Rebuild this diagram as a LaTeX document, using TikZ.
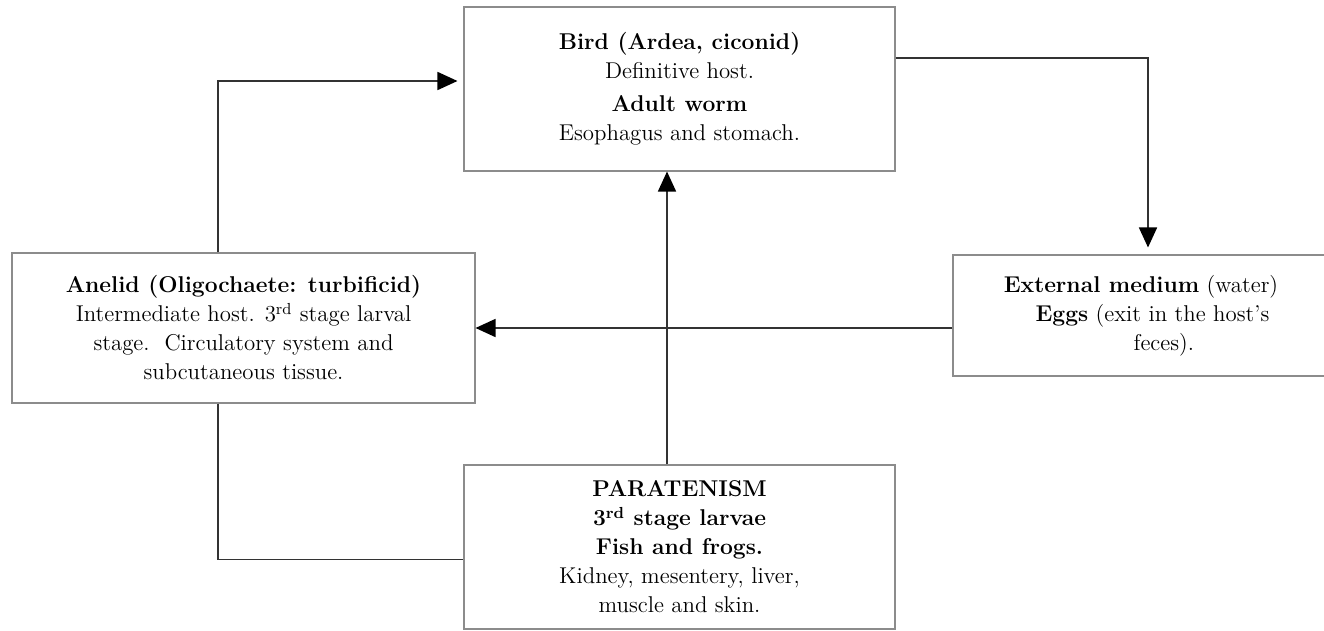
\documentclass[tikz,border=0pt]{standalone}
\usepackage{xcolor}
\usepackage{tikz}
\usetikzlibrary{arrows.meta,positioning}

\begin{document}
\begin{tikzpicture}[
  box/.style={rectangle, draw=black!45, line width=0.6pt, fill=white,
              align=center, inner sep=0pt,
              font=\fontsize{13}{16.5}\selectfont},
  arr/.style={-{Triangle[length=0.4cm, width=0.36cm, color=black, fill=black]},
              line width=0.9pt, black!80},
  link/.style={line width=0.9pt, black!80}
]

\useasboundingbox (0,0) rectangle (26.48,-12.62);

%% Host boxes
\node[box, minimum width=8.62cm, minimum height=3.28cm] (bird) at (13.59,-1.78)
  {\textbf{Bird (Ardea, ciconid)}\\Definitive host.\\[2pt]\textbf{Adult worm}\\Esophagus and stomach.};
\node[box, minimum width=9.26cm, minimum height=3.0cm] (anelid) at (4.87,-6.56)
  {\textbf{Anelid (Oligochaete: turbificid)}\\Intermediate host. 3\textsuperscript{rd} stage larval\\stage.\ \ Circulatory system and\\subcutaneous tissue.};
\node[box, minimum width=7.52cm, minimum height=2.42cm] (ext) at (22.82,-6.31)
  {\textbf{External medium} (water)\\\hspace{1em}\textbf{Eggs} (exit in the host's\\\hspace{2em}feces).};
\node[box, minimum width=8.62cm, minimum height=3.28cm] (para) at (13.59,-10.94)
  {\textbf{PARATENISM}\\\textbf{3\textsuperscript{rd} stage larvae}\\\textbf{Fish and frogs.}\\Kidney, mesentery, liver,\\muscle and skin.};

%% Cycle arrows
\draw[arr, shorten >=0.12cm] ([xshift=-0.51cm]anelid.north) |- ([yshift=0.16cm]bird.west);
\draw[arr, shorten >=0.14cm] ([yshift=0.62cm]bird.east) -| ([xshift=0.14cm]ext.north);
\draw[arr] (ext.west |- anelid.east) -- (anelid.east);
\draw[arr] ([xshift=-0.25cm]para.north) -- ([xshift=-0.25cm]bird.south);

%% Paratenic link
\draw[link] ([xshift=-0.51cm]anelid.south) |- ([yshift=-0.25cm]para.west);

\end{tikzpicture}
\end{document}
